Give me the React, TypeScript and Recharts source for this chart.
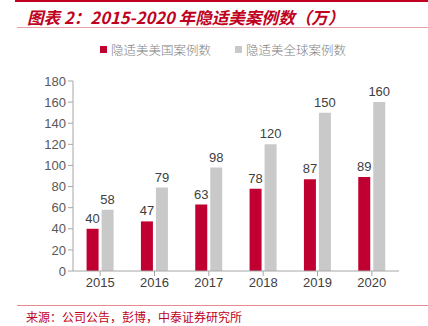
import React from "react";
import { BarChart, Bar, XAxis, YAxis, LabelList } from "recharts";

const years = ["2015", "2016", "2017", "2018", "2019", "2020"];
const usCases = [40, 47, 63, 78, 87, 89];
const globalCases = [58, 79, 98, 120, 150, 160];
const yTicks = [0, 20, 40, 60, 80, 100, 120, 140, 160, 180];

const seriesNames = ["隐适美美国案例数", "隐适美全球案例数"];
const titleText = "图表 2：2015-2020 年隐适美案例数（万）";
const sourceText = "来源：公司公告，彭博，中泰证券研究所";

const data = years.map((y, i) => ({ year: y, us: usCases[i], global: globalCases[i] }));

const RED = "#C00030";
const GRAY = "#C9C9C9";
const AXIS = "#A6A6A6";
const CJK = '"Noto Sans CJK SC", "Noto Sans", sans-serif';
const LATIN = '"Liberation Sans", Arial, sans-serif';

export default function App() {
  return (
    <div style={{ position: "absolute", left: 0, top: 0, width: 428, height: 326, background: "#fff", overflow: "hidden" }}>
      <div style={{ position: "absolute", left: 15, top: 0, width: 413, height: 2, background: "#C00020" }} />
      <div
        style={{
          position: "absolute",
          left: 27,
          top: 5,
          fontFamily: CJK,
          fontWeight: 700,
          fontStyle: "italic",
          fontSize: 16.6,
          lineHeight: "24px",
          color: "#C00020",
          whiteSpace: "nowrap",
        }}
      >
        {titleText}
      </div>
      <div style={{ position: "absolute", left: 17, top: 27, width: 411, height: 1, background: "#E8A0A8" }} />

      <div style={{ position: "absolute", left: 100, top: 40, display: "flex", alignItems: "center", fontFamily: CJK, fontSize: 12.5, fontWeight: 300, color: "#808080", whiteSpace: "nowrap" }}>
        <span style={{ display: "inline-block", width: 7, height: 7, background: RED, marginRight: 4 }} />
        <span>{seriesNames[0]}</span>
        <span style={{ display: "inline-block", width: 7, height: 7, background: GRAY, marginLeft: 24, marginRight: 4 }} />
        <span>{seriesNames[1]}</span>
      </div>

      <div style={{ position: "absolute", left: 0, top: 0 }}>
        <BarChart
          width={428}
          height={326}
          data={data}
          margin={{ top: 81, right: 29, bottom: 25, left: 33 }}
          barCategoryGap="25%"
          barGap={3}
        >
          <XAxis
            dataKey="year"
            stroke={AXIS}
            tickLine={{ stroke: AXIS }}
            tickSize={5}
            height={30}
            tick={{ fill: "#404040", fontSize: 13, fontFamily: LATIN }}
            interval={0}
          />
          <YAxis
            domain={[0, 180]}
            ticks={yTicks}
            stroke={AXIS}
            tickLine={{ stroke: AXIS }}
            tickSize={5}
            width={40}
            interval={0}
            tick={{ fill: "#595959", fontSize: 13, fontFamily: LATIN }}
          />
          <Bar dataKey="us" fill={RED} isAnimationActive={false}>
            <LabelList dataKey="us" position="top" offset={6} fill="#404040" fontSize={13} fontFamily={LATIN} />
          </Bar>
          <Bar dataKey="global" fill={GRAY} isAnimationActive={false}>
            <LabelList dataKey="global" position="top" offset={6} fill="#404040" fontSize={13} fontFamily={LATIN} />
          </Bar>
        </BarChart>
      </div>

      <div style={{ position: "absolute", left: 17, top: 305, width: 411, height: 1, background: "#E8888F" }} />
      <div
        style={{
          position: "absolute",
          left: 26,
          top: 309,
          fontFamily: CJK,
          fontSize: 12,
          lineHeight: "16px",
          color: "#C00020",
          whiteSpace: "nowrap",
        }}
      >
        {sourceText}
      </div>
    </div>
  );
}
